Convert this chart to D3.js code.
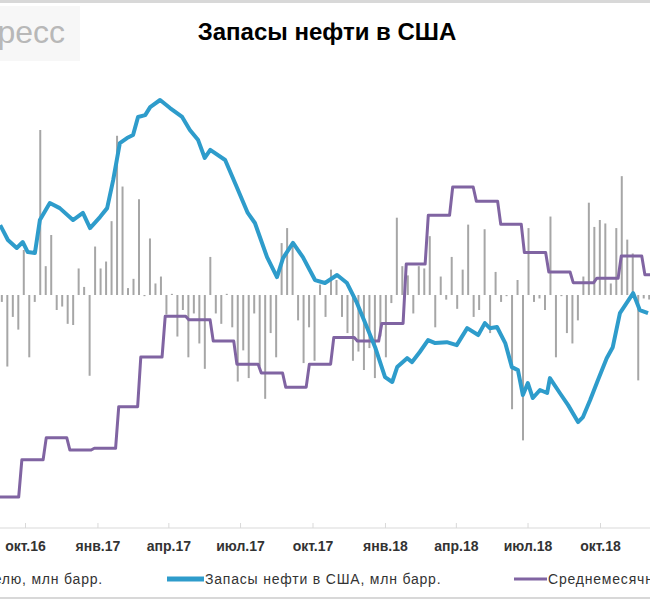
<!DOCTYPE html>
<html>
<head>
<meta charset="utf-8">
<script src="https://cdn.jsdelivr.net/npm/d3@7"></script>
<style>
  body { margin: 0; background: #fff; }
  svg { font-family: "Liberation Sans", Arial, sans-serif; display: block; }
</style>
</head>
<body>
<svg id="chart" width="650" height="600"></svg>
<script>
(function () {
  'use strict';

  // week offsets from 2016-10-01 and stocks, mln bbl
  var stockWeeks = [-4.5, -3.1, -1.5, -0.4, 0.5, 1.8, 2.7, 4.5, 6.3, 8.7, 10.5, 11.8, 13.6, 14.9, 16.0, 17.2,
    18.5, 19.6, 20.5, 21.8, 22.7, 24.5, 26.3, 28.5, 29.9, 31.4, 32.6, 33.6, 36.3, 38.4, 40.4, 41.7, 43.9,
    45.7, 46.8, 48.6, 50.4, 52.6, 54.4, 56.6, 58.4, 60.2, 62.0, 63.5, 65.3, 66.6, 67.5, 69.3, 70.2, 71.6,
    73.1, 74.4, 76.5, 78.3, 80.2, 82.2, 83.4, 84.3, 85.6, 87.1, 88.3, 89.4, 90.3, 91.2, 92.1, 93.4, 94.7,
    95.2, 97.0, 98.5, 100.3, 101.2, 102.5, 103.9, 105.5, 106.6, 107.9, 110.3, 111.5, 113.0];
  var stockValues = [480.4, 473.9, 470.4, 473.0, 468.6, 468.2, 482.6, 490.0, 487.8, 482.6, 485.7, 479.1, 483.9,
    487.8, 500.1, 516.2, 518.4, 519.7, 527.6, 528.4, 531.9, 535.0, 531.5, 527.6, 521.9, 517.5, 509.7, 513.2,
    508.8, 497.0, 485.7, 481.3, 466.4, 457.7, 466.0, 472.6, 466.4, 456.4, 455.1, 458.6, 455.1, 446.4, 435.9,
    427.1, 414.0, 411.9, 418.4, 422.3, 420.6, 425.0, 430.2, 428.9, 429.3, 428.0, 435.4, 432.4, 437.6, 435.4,
    435.9, 428.9, 418.4, 417.1, 406.2, 411.4, 404.9, 408.4, 407.1, 413.6, 407.1, 401.8, 394.4, 396.6, 404.0,
    412.7, 422.3, 427.1, 442.0, 450.7, 443.3, 442.0];

  // weekly change, mln bbl
  var changeStartWeek = -4.2;
  var changeStep = 0.995;
  var changeValues = [-0.6, -6.2, -1.9, -3.0, 3.9, -5.4, -0.6, 14.3, 2.5, 5.2, -1.3, -1.0, -2.5, -2.6, 2.3, 0.7,
    -7.0, 4.2, 2.3, 2.9, 6.4, 13.8, 9.4, 0.6, 1.4, 8.3, -0.1, 4.9, 1.0, 1.6, -1.7, 0.1, -3.6, -1.3, -5.4, -1.6,
    -4.2, -6.4, 3.3, -1.6, -2.5, 0.1, -2.8, -7.5, -4.8, -7.2, -1.6, -6.2, -9.0, -3.3, -5.4, 4.5, 5.8, 4.5, -2.2,
    -5.9, -2.8, -5.7, 0.9,
    -1.9, 2.2, 1.3, -1.9, -3.3, -5.7, -4.9, -6.5, -4.6, -7.2, -3.6, -5.4, -0.7, 6.7, 2.5, 1.7, -1.6, 2.5, 2.3,
    5.1, -2.8, 1.6, -0.4, 3.3, -1.2, 2.2, 6.1, -1.9, -1.3, 5.7, -3.3, 2.0, -0.6, -0.1, -9.9, 1.3, -12.6, 5.8,
    -0.6, -0.3, -1.3, 6.8, -5.4, -0.1, -3.3, -4.2, -2.2, 1.6, 8.0, 5.9, 6.5, 6.2, 1.0, 5.8, 10.3, 4.8, 3.6,
    -7.4, -0.3, -0.4];

  // monthly average, by month
  var monthList = ['2016-08', '2016-09', '2016-10', '2016-11', '2016-12', '2017-01', '2017-02', '2017-03',
    '2017-04', '2017-05', '2017-06', '2017-07', '2017-08', '2017-09', '2017-10', '2017-11', '2017-12',
    '2018-01', '2018-02', '2018-03', '2018-04', '2018-05', '2018-06', '2018-07', '2018-08', '2018-09',
    '2018-10', '2018-11', '2018-12'];
  var monthValues = [40.0, 40.0, 44.2, 46.7, 45.3, 45.5, 50.2, 55.8, 60.4, 60.0, 57.6, 55.0, 54.0, 52.4, 55.0,
    58.0, 57.6, 59.6, 66.3, 71.8, 75.0, 73.4, 70.8, 67.6, 65.4, 64.2, 64.7, 67.2, 65.1];

  var tickDates = ['2016-10-01', '2017-01-01', '2017-04-01', '2017-07-01', '2017-10-01', '2018-01-01',
    '2018-04-01', '2018-07-01', '2018-10-01', '2019-01-01'];
  var tickLabels = ['окт.16', 'янв.17', 'апр.17', 'июл.17', 'окт.17', 'янв.18', 'апр.18', 'июл.18',
    'окт.18', 'янв.19'];

  var parse = d3.utcParse('%Y-%m-%d');
  var origin = parse('2016-10-01');
  function weekDate(w) { return new Date(origin.getTime() + w * 7 * 864e5); }

  var svg = d3.select('#chart');
  var x = d3.scaleUtc().domain([parse('2016-10-01'), parse('2018-10-01')]).range([25, 600]);
  var yStock = d3.scaleLinear().domain([394, 535]).range([423, 100]);
  var yChange = d3.scaleLinear().domain([0, 14.3]).range([295, 130]);
  var yAvg = d3.scaleLinear().domain([40, 75]).range([497, 187]);

  // frame lines
  svg.append('line').attr('x1', 0).attr('x2', 650).attr('y1', 1.5).attr('y2', 1.5)
    .attr('stroke', '#d8d8d8').attr('stroke-width', 3);
  svg.append('line').attr('x1', 0).attr('x2', 650).attr('y1', 598).attr('y2', 598)
    .attr('stroke', '#d8d8d8').attr('stroke-width', 2);

  // watermark
  svg.append('rect').attr('x', 0).attr('y', 6).attr('width', 80).attr('height', 55).attr('fill', '#f7f7f7');
  svg.append('text').attr('x', 65).attr('y', 43).attr('text-anchor', 'end').attr('font-size', 32)
    .attr('fill', '#b8b8b8').text('Интерфакс пресс');

  svg.append('text').attr('x', 327).attr('y', 40).attr('text-anchor', 'middle')
    .attr('font-size', 24).attr('font-weight', 'bold').attr('fill', '#000').text('Запасы нефти в США');

  var plot = svg.append('g');

  // bars
  plot.selectAll('line.bar').data(changeValues).enter().append('line')
    .attr('class', 'bar')
    .attr('x1', function (d, i) { return x(weekDate(changeStartWeek + i * changeStep)); })
    .attr('x2', function (d, i) { return x(weekDate(changeStartWeek + i * changeStep)); })
    .attr('y1', yChange(0))
    .attr('y2', function (d) { return yChange(d); })
    .attr('stroke', '#a6a6a6').attr('stroke-width', 2);

  // monthly step line
  var avgPoints = [];
  monthList.forEach(function (m, i) {
    var start = d3.utcParse('%Y-%m')(m);
    var next = d3.utcMonth.offset(start, 1);
    avgPoints.push([d3.utcDay.offset(start, -4), monthValues[i]]);
    avgPoints.push([d3.utcDay.offset(next, -8), monthValues[i]]);
  });
  plot.append('path').datum(avgPoints)
    .attr('fill', 'none').attr('stroke', '#8064a2').attr('stroke-width', 3).attr('stroke-linejoin', 'round')
    .attr('d', d3.line().x(function (d) { return x(d[0]); }).y(function (d) { return yAvg(d[1]); }));

  // stocks line
  plot.append('path').datum(stockWeeks.map(function (w, i) { return [weekDate(w), stockValues[i]]; }))
    .attr('fill', 'none').attr('stroke', '#2e9ccb').attr('stroke-width', 4).attr('stroke-linejoin', 'round')
    .attr('d', d3.line().x(function (d) { return x(d[0]); }).y(function (d) { return yStock(d[1]); }));

  // x axis
  var axis = svg.append('g').attr('transform', 'translate(0,528)')
    .call(d3.axisBottom(x).tickValues(tickDates.map(parse)).tickSize(5).tickPadding(8)
      .tickFormat(function (d, i) { return tickLabels[i]; }));
  axis.select('.domain').attr('stroke', '#d9d9d9').attr('d', 'M0,0H650');
  axis.selectAll('.tick line').attr('stroke', '#d9d9d9').attr('y1', -5).attr('y2', 0);
  axis.selectAll('.tick text').attr('font-size', 14).attr('font-weight', 'bold').attr('fill', '#333')
    .attr('font-family', '"Liberation Sans", Arial, sans-serif');

  // legend
  var lg = svg.append('g').attr('font-size', 14).attr('fill', '#333').attr('letter-spacing', 0.8);
  lg.append('text').attr('x', 103).attr('y', 584).attr('text-anchor', 'end').attr('fill', '#333')
    .text('Изменение запасов за неделю, млн барр.');
  lg.append('line').attr('x1', 167).attr('x2', 204).attr('y1', 579).attr('y2', 579)
    .attr('stroke', '#2e9ccb').attr('stroke-width', 5);
  lg.append('text').attr('x', 205).attr('y', 584).attr('fill', '#333').text('Запасы нефти в США, млн барр.');
  lg.append('line').attr('x1', 514).attr('x2', 547).attr('y1', 579).attr('y2', 579)
    .attr('stroke', '#8064a2').attr('stroke-width', 3);
  lg.append('text').attr('x', 548).attr('y', 584).attr('fill', '#333').text('Среднемесячная добыча');
})();
</script>
</body>
</html>
